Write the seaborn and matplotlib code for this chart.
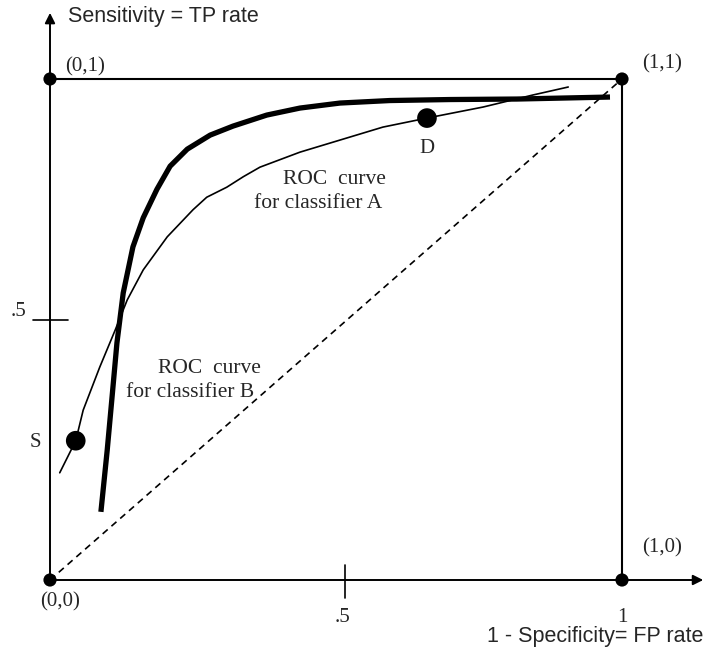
import numpy as np
import pandas as pd
import matplotlib
matplotlib.use("Agg")
import matplotlib.pyplot as plt
import seaborn as sns

# ROC curve for classifier A (thin line)
fpr_a = [0.017, 0.045, 0.058, 0.087, 0.114, 0.135, 0.163, 0.205, 0.250, 0.274, 0.309,
         0.338, 0.367, 0.437, 0.524, 0.582, 0.659, 0.757, 0.844, 0.906]
tpr_a = [0.214, 0.278, 0.339, 0.425, 0.499, 0.559, 0.619, 0.685, 0.739, 0.764, 0.784,
         0.805, 0.824, 0.854, 0.884, 0.904, 0.922, 0.944, 0.968, 0.984]

# ROC curve for classifier B (thick line)
fpr_b = [0.089, 0.100, 0.108, 0.117, 0.128, 0.145, 0.163, 0.187, 0.210, 0.240, 0.280,
         0.320, 0.379, 0.437, 0.507, 0.594, 0.699, 0.816, 0.979]
tpr_b = [0.136, 0.259, 0.359, 0.473, 0.573, 0.665, 0.723, 0.780, 0.826, 0.860, 0.888,
         0.906, 0.928, 0.942, 0.952, 0.957, 0.959, 0.960, 0.964]

# corner points of the ROC space and the two marked operating points
corner_x = [0, 0, 1, 1]
corner_y = [0, 1, 1, 0]
corner_labels = ["(0,0)", "(0,1)", "(1,1)", "(1,0)"]
op_names = ["S", "D"]
op_x = [0.045, 0.659]
op_y = [0.278, 0.922]

sns.set_style("white")
fig = plt.figure(figsize=(7.05, 6.48), dpi=100)
ax = fig.add_axes([0, 0, 1, 1])
ax.set_xlim(-50 / 572, 655 / 572)
ax.set_ylim(-68 / 501, 580 / 501)
ax.axis("off")

serif = "Liberation Serif"
sans = "Liberation Sans"

# box of the ROC space
ax.plot([0, 1, 1], [1, 1, 0], color="black", lw=1.5)
# axes with arrows
ax.annotate("", xy=(0, 1.132), xytext=(0, 0),
            arrowprops=dict(arrowstyle="-|>", lw=1.4, color="black", mutation_scale=15, shrinkA=0, shrinkB=0))
ax.annotate("", xy=(1.142, 0), xytext=(0, 0),
            arrowprops=dict(arrowstyle="-|>", lw=1.4, color="black", mutation_scale=15, shrinkA=0, shrinkB=0))
# .5 ticks (drawn where the picture has them)
ax.plot([-0.030, 0.031], [0.519, 0.519], color="black", lw=1.2)
ax.plot([0.516, 0.516], [-0.036, 0.030], color="black", lw=1.2)

# chance diagonal
ax.plot([0, 1], [0, 1], color="black", lw=1.2, ls=(0, (4, 3)))

# the two ROC curves
sns.lineplot(x=fpr_a, y=tpr_a, sort=False, estimator=None, color="black", lw=1.2, ax=ax)
sns.lineplot(x=fpr_b, y=tpr_b, sort=False, estimator=None, color="black", lw=3.8, ax=ax,
             solid_capstyle="butt")

# dots
sns.scatterplot(x=corner_x, y=corner_y, color="black", s=90, edgecolor="none", ax=ax, zorder=5)
sns.scatterplot(x=op_x, y=op_y, color="black", s=200, edgecolor="none", ax=ax, zorder=5)

# corner labels
ax.text(-0.017, -0.043, corner_labels[0], family=serif, fontsize=15, ha="left", va="center")
ax.text(0.026, 1.024, corner_labels[1], family=serif, fontsize=15, ha="left", va="center")
ax.text(1.035, 1.030, corner_labels[2], family=serif, fontsize=15, ha="left", va="center")
ax.text(1.035, 0.064, corner_labels[3], family=serif, fontsize=15, ha="left", va="center")

# operating point labels
ax.text(-0.026, op_y[0] - 0.004, op_names[0], family=serif, fontsize=15, ha="center", va="center")
ax.text(op_x[1], op_y[1] - 0.060, op_names[1], family=serif, fontsize=15, ha="center", va="center")

# curve captions
ax.text(0.407, 0.800, "ROC  curve", family=serif, fontsize=15.5, ha="left", va="center")
ax.text(0.357, 0.752, "for classifier A", family=serif, fontsize=15.5, ha="left", va="center")
ax.text(0.189, 0.423, "ROC  curve", family=serif, fontsize=15.5, ha="left", va="center")
ax.text(0.133, 0.375, "for classifier B", family=serif, fontsize=15.5, ha="left", va="center")

# tick labels
ax.text(-0.055, 0.535, ".5", family=serif, fontsize=15, ha="center", va="center")
ax.text(0.511, -0.075, ".5", family=serif, fontsize=15, ha="center", va="center")
ax.text(1.0, -0.075, "1", family=serif, fontsize=15, ha="center", va="center")

# axis titles
ax.text(0.031, 1.124, "Sensitivity = TP rate", family=sans, fontsize=15.5, ha="left", va="center")
ax.text(1.142, -0.113, "1 - Specificity= FP rate", family=sans, fontsize=15.5, ha="right", va="center")

fig.savefig("out.png", dpi=100)
